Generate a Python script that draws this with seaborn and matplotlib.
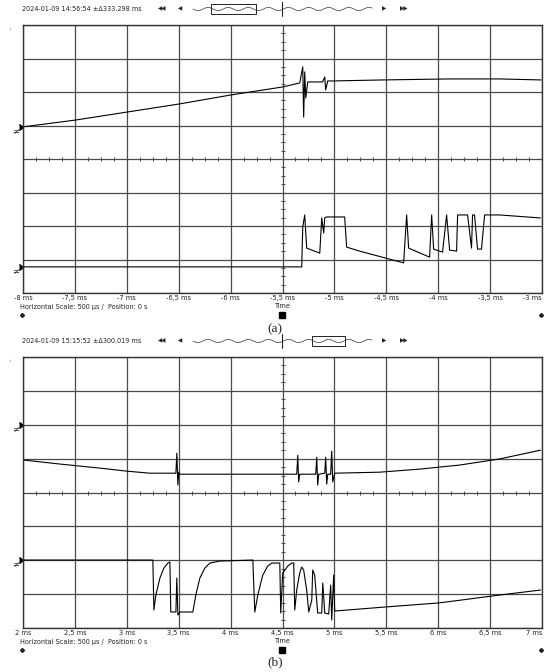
import numpy as np
import pandas as pd
import matplotlib.pyplot as plt
import seaborn as sns
from matplotlib.ticker import MultipleLocator

# ---- data (time in ms, level in screen divisions 0..8) ----
a_ch1_t = [-8.0, -7.5, -7.0, -6.5, -6.0, -5.5, -5.334, -5.305, -5.296, -5.286, -5.276,
           -5.257, -5.113, -5.093, -5.084, -5.064, -5.016, -4.535, -3.89, -3.41, -3.01]
a_ch1_v = [4.96, 5.16, 5.40, 5.64, 5.91, 6.15, 6.27, 6.75, 5.25, 6.6, 5.82,
           6.30, 6.30, 6.45, 6.06, 6.33, 6.33, 6.36, 6.39, 6.39, 6.36]

a_ch2_t = [-8.0, -5.315, -5.305, -5.286, -5.267, -5.141, -5.122, -5.103, -5.093, -5.074,
           -4.901, -4.882, -4.757, -4.612, -4.468, -4.333, -4.304, -4.285, -4.083, -4.063,
           -4.044, -3.958, -3.919, -3.890, -3.823, -3.813, -3.717, -3.679, -3.669, -3.650,
           -3.621, -3.583, -3.553, -3.409, -3.015]
a_ch2_v = [0.78, 0.78, 1.97, 2.33, 1.34, 1.19, 2.24, 1.79, 2.24, 2.27,
           2.27, 1.37, 1.25, 1.13, 1.01, 0.90, 2.33, 1.34, 1.07, 2.33,
           1.31, 1.22, 2.33, 1.28, 1.25, 2.33, 2.33, 1.34, 2.33, 2.33,
           1.31, 1.31, 2.33, 2.33, 2.24]

b_ch1_t = [2.0, 2.356, 2.741, 3.001, 3.222, 3.473, 3.482, 3.492, 3.501, 3.511, 3.992,
           4.637, 4.647, 4.656, 4.666, 4.820, 4.830, 4.839, 4.849, 4.907, 4.916, 4.926,
           4.936, 4.964, 4.974, 4.984, 5.003, 5.436, 5.821, 6.206, 6.591, 6.986]
b_ch1_v = [4.96, 4.84, 4.72, 4.63, 4.57, 4.57, 5.16, 4.22, 4.60, 4.54, 4.54,
           4.54, 5.10, 4.31, 4.54, 4.54, 5.04, 4.22, 4.54, 4.57, 5.04, 4.25,
           4.54, 4.54, 5.22, 4.31, 4.57, 4.60, 4.69, 4.81, 4.99, 5.25]

b_ch2_t = [2.0, 3.251, 3.261, 3.280, 3.319, 3.357, 3.396, 3.415, 3.424, 3.473, 3.482,
           3.492, 3.511, 3.636, 3.665, 3.704, 3.752, 3.800, 3.896, 4.214, 4.233, 4.262,
           4.310, 4.358, 4.397, 4.474, 4.483, 4.502, 4.551, 4.589, 4.608, 4.618, 4.637,
           4.666, 4.685, 4.704, 4.733, 4.753, 4.782, 4.791, 4.810, 4.839, 4.878, 4.888,
           4.907, 4.945, 4.964, 4.974, 4.993, 5.003, 5.484, 5.994, 6.225, 6.591, 6.986]
b_ch2_v = [2.006, 2.006, 0.531, 0.973, 1.475, 1.770, 1.917, 1.947, 0.472, 0.472, 1.475,
           0.383, 0.472, 0.472, 0.973, 1.475, 1.770, 1.917, 1.976, 2.006, 0.472, 0.973,
           1.563, 1.829, 1.917, 1.917, 0.442, 1.622, 1.829, 1.917, 1.917, 0.531, 1.121,
           1.622, 1.799, 1.711, 1.121, 0.472, 0.826, 1.711, 1.563, 0.442, 0.442, 1.327,
           0.442, 0.413, 1.268, 0.236, 1.563, 0.501, 0.619, 0.737, 0.826, 0.973, 1.121]

panels = [
    dict(t0=-8.0, t1=-3.0, ch1=(a_ch1_t, a_ch1_v), ch2=(a_ch2_t, a_ch2_v),
         stamp="2024-01-09 14:56:54 ±Δ333.298 ms", box=(211, 256), caption="(a)",
         gnd=[4.96, 0.78], top=25, bottom=293),
    dict(t0=2.0, t1=7.0, ch1=(b_ch1_t, b_ch1_v), ch2=(b_ch2_t, b_ch2_v),
         stamp="2024-01-09 15:15:52 ±Δ300.019 ms", box=(312, 345), caption="(b)",
         gnd=[6.0, 2.0], top=357, bottom=628),
]

sns.set_theme(style="white")
plt.rcParams['font.family'] = ['DejaVu Sans']

W, H = 550, 672
fig = plt.figure(figsize=(W / 100, H / 100), dpi=100)
# overlay in pixel coordinates for the scope decorations
deco = fig.add_axes([0, 0, 1, 1], zorder=-1)
deco.set_xlim(0, W)
deco.set_ylim(H, 0)
deco.axis('off')

grid_col = '#4a4a4a'
txt_col = '#222222'


def fmt_ms(v):
    s = f"{v:g}".replace('.', ',')
    return f"{s} ms"


for p in panels:
    left, right = 23, 542
    ax = fig.add_axes([left / W, 1 - p['bottom'] / H, (right - left) / W,
                       (p['bottom'] - p['top']) / H])
    ax.set_xlim(p['t0'], p['t1'])
    ax.set_ylim(0, 8)
    ticks = np.arange(p['t0'], p['t1'] + 1e-9, 0.5)
    ax.set_xticks(ticks, [fmt_ms(t) for t in ticks])
    ax.yaxis.set_major_locator(MultipleLocator(1))
    ax.grid(True, color=grid_col, lw=0.9)
    ax.set_yticklabels([])
    ax.tick_params(axis='x', labelsize=4.8, pad=1.5, length=0, colors=txt_col)
    ax.tick_params(axis='y', length=0)
    ax.get_xticklabels()[-1].set_ha('right')
    for sp in ax.spines.values():
        sp.set_color('#333333')
        sp.set_linewidth(1.0)

    # minor ticks on the centre cross
    tc = (p['t0'] + p['t1']) / 2
    xt = np.arange(p['t0'], p['t1'] + 1e-9, 0.125)
    ax.plot(xt, np.full_like(xt, 4.0), ls='none', marker='|', ms=3, mew=0.7, color=grid_col)
    yt = np.arange(0, 8.01, 0.25)
    ax.plot(np.full_like(yt, tc), yt, ls='none', marker='_', ms=3, mew=0.7, color=grid_col)

    for t, v in (p['ch1'], p['ch2']):
        df = pd.DataFrame({'t': t, 'v': v})
        sns.lineplot(data=df, x='t', y='v', ax=ax, sort=False, estimator=None,
                     color='black', lw=0.8)
    ax.set_xlabel('')
    ax.set_ylabel('')

    # ground reference markers on the left
    for g in p['gnd']:
        ax.plot([p['t0']], [g], marker=5, ms=4, color='black', clip_on=False)
        ax.text(p['t0'], g, '≠ ', ha='right', va='top', fontsize=6, color=txt_col)

    top, bot = p['top'], p['bottom']
    # header
    hy = top - 16
    deco.text(22, hy, p['stamp'], fontsize=4.7, va='center', ha='left', color=txt_col)
    deco.text(162, hy, '◀◀', fontsize=4, va='center', ha='center', color=txt_col)
    deco.text(180, hy, '◀', fontsize=4, va='center', ha='center', color=txt_col)
    deco.text(384, hy, '▶', fontsize=4, va='center', ha='center', color=txt_col)
    deco.text(404, hy, '▶▶', fontsize=4, va='center', ha='center', color=txt_col)
    wx = np.linspace(193, 372, 600)
    deco.plot(wx, hy + 1.6 * np.sin((wx - 193) / 3.2), color='#333333', lw=0.5)
    b0, b1 = p['box']
    deco.add_patch(plt.Rectangle((b0, hy - 5), b1 - b0, 10, fill=False,
                                 ec=txt_col, lw=0.7))
    deco.plot([282, 282], [hy - 7, hy + 7], color=txt_col, lw=0.8)
    deco.text(8, top + 4, '›', fontsize=5, color='#999999', va='center')

    # footer
    deco.text(282, bot + 13, 'Time', fontsize=4.7, ha='center', va='center', color=txt_col)
    deco.text(20, bot + 14, 'Horizontal Scale: 500 µs /  Position: 0 s', fontsize=4.7,
              ha='left', va='center', color=txt_col)
    deco.plot([22], [bot + 22], marker='D', ms=2, color=txt_col)
    deco.plot([282], [bot + 22], marker='s', ms=4.5, color='black')
    deco.plot([541], [bot + 22], marker='D', ms=2, color=txt_col)
    deco.text(275, bot + 36 if p['caption'] == '(a)' else bot + 34, p['caption'],
              fontsize=9.5, ha='center', va='center', family='Liberation Serif')

# small corner markers
deco.text(540, 289, '↱', fontsize=6, ha='center', va='center', color=txt_col)
deco.text(27, 623, '↰', fontsize=6, ha='center', va='center', color=txt_col)

fig.savefig('out.png', dpi=100)
